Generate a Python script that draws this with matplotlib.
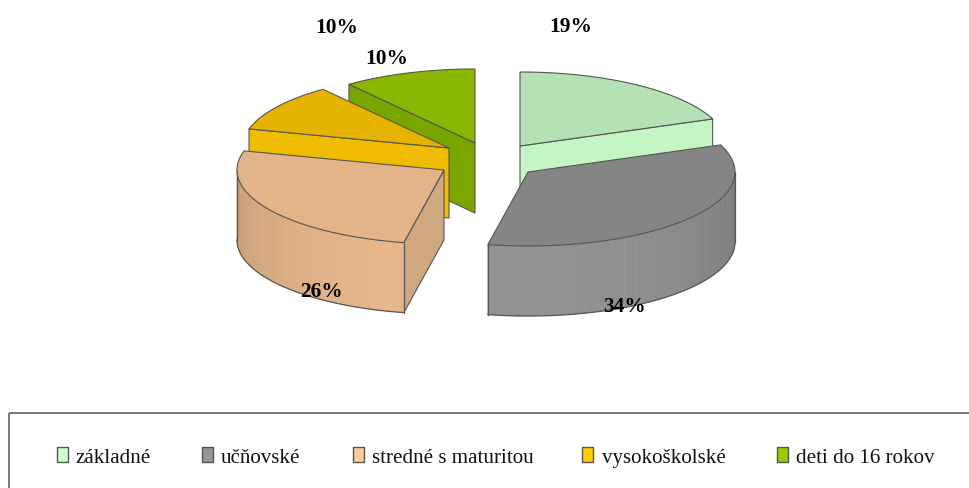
import numpy as np
import matplotlib
matplotlib.use('Agg')
import matplotlib.pyplot as plt
from matplotlib.colors import to_rgb
from matplotlib.patches import Polygon, Rectangle

categories = ['základné', 'učňovské', 'stredné s maturitou', 'vysokoškolské', 'deti do 16 rokov']
shares = [19, 34, 26, 10.4, 10.4]
top_colors = ['#b4e2b4', '#858585', '#e3b488', '#e6b400', '#8ab800']
cut_colors = ['#c4f5c4', '#7c7c7c', '#cfa880', '#f0bc00', '#7aa600']
wall_colors = ['#c4f5c4', '#929292', '#e8b88c', '#f0bc00', '#7aa600']
legend_colors = ['#ccffcc', '#969696', '#ffcc99', '#ffcc00', '#99cc00']

# exploded slice apexes, label and legend positions in pixels
apex_x = [520, 528, 444, 449, 475]
apex_y = [146, 172, 170, 148, 143]
label_x = [571, 624, 321, 337, 387]
label_y = [27, 307, 292, 28, 59]
swatch_x = [57, 202, 353, 582, 777]
text_x = [75, 221, 372, 602, 796]
rx, ry, depth = 207, 74, 70

plt.rcParams['font.family'] = ['Liberation Serif', 'DejaVu Serif']

fig = plt.figure(figsize=(9.7, 4.88), dpi=100)
ax = fig.add_axes([0, 0, 1, 1])
ax.set_xlim(0, 970)
ax.set_ylim(488, 0)
ax.axis('off')

edges = np.cumsum([0] + shares) / sum(shares) * 360


def rim(cx, cy, deg):
    t = np.radians(deg)
    return cx + rx * np.sin(t), cy - ry * np.cos(t)


def draw_slice(i, layer):
    cx, cy = apex_x[i], apex_y[i]
    start, end = edges[i], edges[i + 1]

    # cut faces that look toward the viewer
    for deg, normal in [(start, start - 90), (end, end + 90)]:
        if np.cos(np.radians(normal)) < -0.01:
            x, y = rim(cx, cy, deg)
            ax.add_patch(Polygon([(cx, cy), (x, y), (x, y + depth), (cx, cy + depth)],
                                 fc=cut_colors[i], ec='#555555', lw=0.8, zorder=layer))

    # outer wall, shaded in strips
    lo, hi = max(start, 90), min(end, 270)
    if hi > lo:
        steps = np.linspace(lo, hi, int(hi - lo) // 4 + 2)
        base = np.array(to_rgb(wall_colors[i]))
        for a, b in zip(steps[:-1], steps[1:]):
            xa, ya = rim(cx, cy, a)
            xb, yb = rim(cx, cy, b)
            shade = 0.84 - 0.16 * np.cos(np.radians((a + b) / 2))
            ax.add_patch(Polygon([(xa, ya), (xb, yb), (xb, yb + depth), (xa, ya + depth)],
                                 fc=base * shade, ec=base * shade, lw=0.4, zorder=layer))
        xs, ys = rim(cx, cy, np.linspace(lo, hi, 80))
        ax.plot(xs, ys + depth, color='#555555', lw=0.9, zorder=layer)
        for deg in (lo, hi):
            x, y = rim(cx, cy, deg)
            ax.plot([x, x], [y, y + depth], color='#555555', lw=0.9, zorder=layer)

    # top face
    xs, ys = rim(cx, cy, np.linspace(start, end, 80))
    pts = [(cx, cy)] + list(zip(xs, ys))
    ax.add_patch(Polygon(pts, fc=top_colors[i], ec='#555555', lw=0.8, zorder=layer + 0.5))


# back slices first
for layer, i in enumerate([4, 3, 0, 2, 1]):
    draw_slice(i, layer)

for v, x, y in zip(shares, label_x, label_y):
    ax.text(x, y, f'{v:.0f}%', ha='center', va='center', fontsize=15.4,
            fontweight='bold', color='black', zorder=10)

# legend frame runs off the right and bottom of the picture
ax.add_patch(Rectangle((9, 413), 1000, 120, fc='none', ec='#777777', lw=1.4, zorder=10))
for name, color, sx, tx in zip(categories, legend_colors, swatch_x, text_x):
    ax.add_patch(Rectangle((sx, 447), 11, 15, fc=color, ec='#555555', lw=1.0, zorder=10))
    ax.text(tx, 463, name, ha='left', va='baseline', fontsize=15.1, color='#111111', zorder=10)

fig.savefig('out.png', dpi=100)
